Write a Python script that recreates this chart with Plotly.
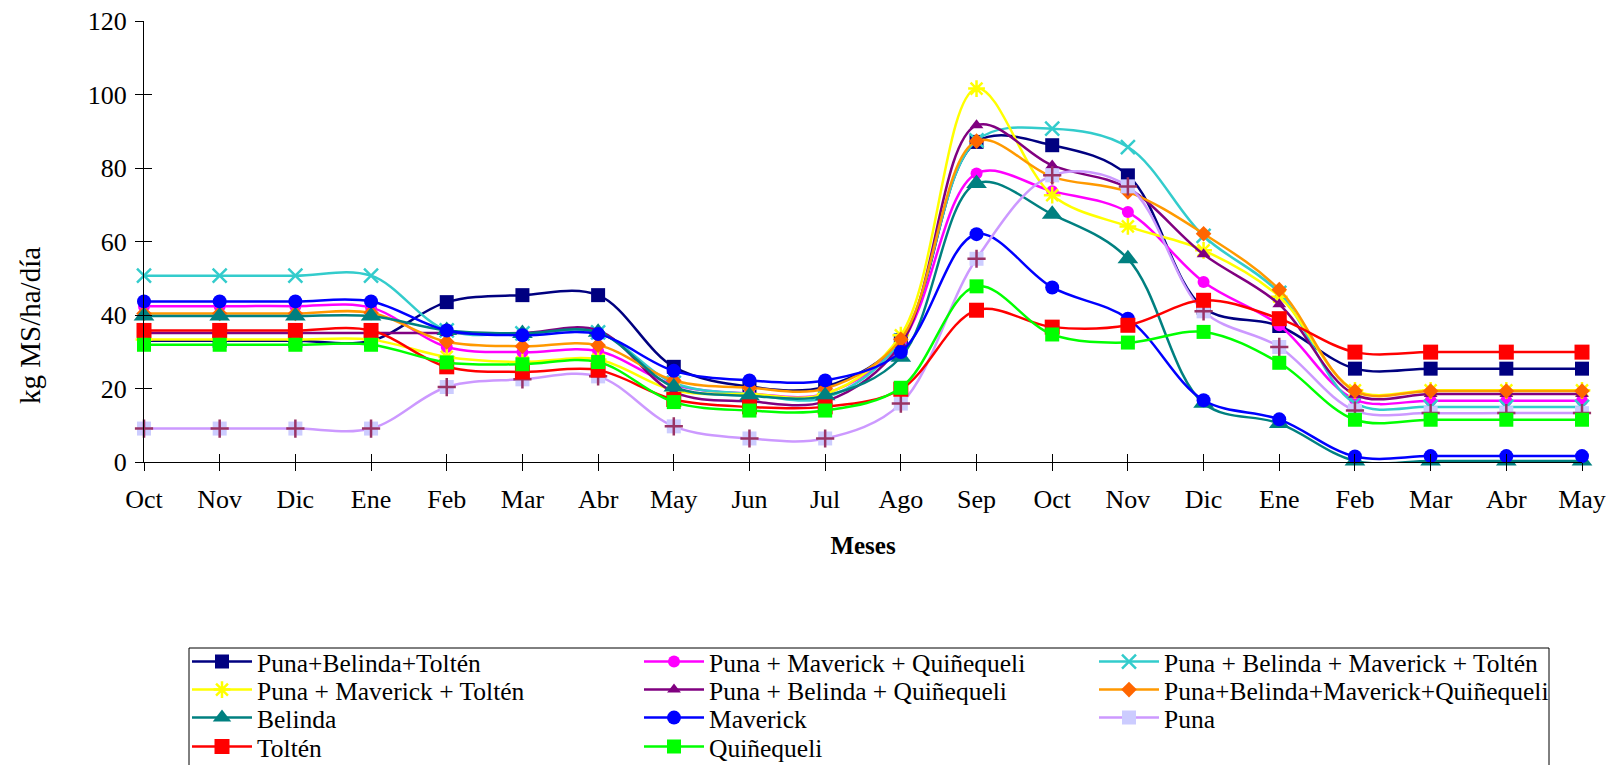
import plotly.graph_objects as go

months = ["Oct", "Nov", "Dic", "Ene", "Feb", "Mar", "Abr", "May", "Jun", "Jul",
          "Ago", "Sep", "Oct", "Nov", "Dic", "Ene", "Feb", "Mar", "Abr", "May"]
y_ticks = [0, 20, 40, 60, 80, 100, 120]

puna_belinda_tolten = [33.0, 33.0, 33.0, 33.0, 43.5, 45.4, 45.4, 25.9, 20.5, 20.5,
                       33.1, 87.1, 86.2, 78.0, 42.0, 37.0, 25.4, 25.4, 25.4, 25.4]
puna_maverick_quinequeli = [42.4, 42.4, 42.4, 42.0, 31.3, 29.9, 30.2, 21.0, 18.6, 18.6,
                            32.5, 78.5, 73.7, 68.0, 49.0, 37.2, 17.0, 16.7, 16.7, 16.7]
puna_belinda_maverick_tolten = [50.7, 50.7, 50.7, 50.7, 35.8, 35.0, 35.3, 21.5, 18.5, 17.5,
                                33.0, 87.5, 90.7, 85.7, 61.5, 46.0, 16.0, 15.0, 15.0, 15.0]
puna_maverick_tolten = [33.3, 33.3, 33.3, 33.3, 28.6, 27.2, 27.9, 19.5, 18.5, 18.5,
                        34.5, 101.6, 72.6, 64.1, 57.6, 45.0, 19.5, 19.5, 19.5, 19.5]
puna_belinda_quinequeli = [35.1, 35.1, 35.1, 35.1, 35.1, 35.1, 35.8, 19.0, 16.5, 16.5,
                           32.0, 91.6, 80.7, 74.5, 56.5, 42.9, 18.3, 18.5, 18.5, 18.5]
puna_belinda_maverick_quinequeli = [40.4, 40.4, 40.4, 40.6, 32.7, 31.5, 31.8, 22.2, 20.2, 20.0,
                                    33.4, 87.3, 77.6, 73.5, 62.1, 46.9, 19.3, 19.3, 19.3, 19.3]
belinda = [39.7, 39.7, 39.7, 39.7, 35.8, 35.0, 35.3, 20.4, 18.0, 18.0,
           28.5, 75.8, 67.4, 55.3, 16.0, 10.5, 0.3, 0.3, 0.3, 0.3]
maverick = [43.7, 43.7, 43.7, 43.7, 35.8, 34.5, 34.8, 24.8, 22.2, 22.2,
            29.9, 62.0, 47.5, 39.0, 16.8, 11.6, 1.5, 1.6, 1.6, 1.6]
puna = [9.1, 9.1, 9.1, 9.1, 20.4, 22.5, 23.3, 9.7, 6.4, 6.4,
        15.9, 55.3, 78.0, 75.0, 41.0, 31.3, 14.0, 13.3, 13.3, 13.3]
tolten = [35.8, 35.8, 35.8, 35.8, 25.9, 24.5, 25.0, 17.0, 15.0, 15.0,
          19.8, 41.3, 36.7, 37.2, 44.0, 39.0, 29.9, 29.9, 29.9, 29.9]
quinequeli = [31.9, 31.9, 31.9, 31.9, 27.1, 26.6, 27.2, 16.3, 14.0, 14.0,
              20.2, 47.8, 34.7, 32.5, 35.4, 27.0, 11.5, 11.5, 11.5, 11.5]

x = list(range(len(months)))
FONT = "Liberation Serif, Times New Roman, serif"

# name, values, line color, marker symbol, marker color, size, (legend column, row)
series = [
    ("Puna+Belinda+Toltén", puna_belinda_tolten, "#000080", "square", "#000080", 14, (0, 0)),
    ("Puna + Maverick + Quiñequeli", puna_maverick_quinequeli, "#FF00FF", "circle", "#FF00FF", 12, (1, 0)),
    ("Puna + Belinda + Maverick + Toltén", puna_belinda_maverick_tolten, "#33CCCC", "x-thin-open", "#33CCCC", 14, (2, 0)),
    ("Puna + Maverick + Toltén", puna_maverick_tolten, "#FFFF00", "asterisk-open", "#FFFF00", 14, (0, 1)),
    ("Puna + Belinda + Quiñequeli", puna_belinda_quinequeli, "#800080", "triangle-up", "#800080", 12, (1, 1)),
    ("Puna+Belinda+Maverick+Quiñequeli", puna_belinda_maverick_quinequeli, "#FF9900", "diamond", "#FF6600", 12, (2, 1)),
    ("Belinda", belinda, "#008080", "triangle-up", "#008080", 18, (0, 2)),
    ("Maverick", maverick, "#0000FF", "circle", "#0000FF", 14, (1, 2)),
    ("Puna", puna, "#CC99FF", "square", "#CCCCFF", 14, (2, 2)),
    ("Toltén", tolten, "#FF0000", "square", "#FF0000", 15, (0, 3)),
    ("Quiñequeli", quinequeli, "#00FF00", "square", "#00FF00", 14, (1, 3)),
]

OFF = 8                      # default page margin of the html body
W, H = 1606, 757
L, R, T, B = 136, 32, 13, 303
pw = W - L - R
ph = H - T - B
bottom_page = OFF + T + ph


def px_x(p):
    return (p - OFF - L) / pw


def px_y(p):
    return (bottom_page - p) / ph


col_x = [187, 639, 1094]        # legend origin (page px)
row_y = [662, 690, 718, 747]    # legend row centres (page px)

fig = go.Figure()
legends = {}
for i, (name, vals, lc, sym, mc, size, (col, row)) in enumerate(series):
    leg = "legend" if i == 0 else f"legend{i + 1}"
    legends[leg] = dict(
        x=px_x(col_x[col]), y=px_y(row_y[row]), xanchor="left", yanchor="middle",
        font=dict(family=FONT, size=25.5, color="black"),
        bgcolor="rgba(0,0,0,0)", borderwidth=0, orientation="v", itemwidth=60,
        tracegroupgap=0,
    )
    marker = dict(symbol=sym, color=mc, size=size, line=dict(width=0))
    if sym.endswith("-open"):
        marker["line"] = dict(width=2.5, color=mc)
    fig.add_trace(go.Scatter(
        x=x, y=vals, name=name, mode="lines+markers",
        line=dict(color=lc, width=2.5, shape="spline", smoothing=1),
        marker=marker, legend=leg, cliponaxis=False,
    ))
    if name == "Puna":
        fig.add_trace(go.Scatter(
            x=x, y=vals, name=name, mode="markers", showlegend=False,
            marker=dict(symbol="cross-thin-open", color="#993366", size=13,
                        line=dict(width=2.5, color="#993366")),
            cliponaxis=False, legend=leg,
        ))

# empty trace on overlay axes (for crossing tick marks)
fig.add_trace(go.Scatter(x=[], y=[], xaxis="x2", yaxis="y2", showlegend=False))

fig.update_layout(
    width=W, height=H,
    margin=dict(l=L, r=R, t=T, b=B, autoexpand=False),
    paper_bgcolor="white", plot_bgcolor="white",
    font=dict(family=FONT, color="black"),
    xaxis=dict(
        range=[0, len(months) - 1], tickmode="array", tickvals=x, ticktext=months,
        showgrid=False, zeroline=False, showline=True, linecolor="black", linewidth=1,
        ticks="outside", ticklen=8, tickcolor="black", tickwidth=1,
        tickfont=dict(family=FONT, size=26, color="black"), ticklabelstandoff=6,
        ticklabeloverflow="allow",
        title=dict(text="<b>Meses</b>", font=dict(family=FONT, size=25, color="black"), standoff=23),
    ),
    yaxis=dict(
        range=[0, 120], tickmode="array", tickvals=y_ticks,
        showgrid=False, zeroline=False, showline=True, linecolor="black", linewidth=1,
        ticks="outside", ticklen=8, tickcolor="black", tickwidth=1,
        tickfont=dict(family=FONT, size=26, color="black"), ticklabelstandoff=3,
        ticklabeloverflow="allow",
    ),
    xaxis2=dict(
        overlaying="x", anchor="y", range=[0, len(months) - 1], tickmode="array",
        tickvals=x, showticklabels=False, ticks="inside", ticklen=8,
        tickcolor="black", tickwidth=1, showgrid=False, zeroline=False, showline=False,
    ),
    yaxis2=dict(
        overlaying="y", anchor="x", range=[0, 120], tickmode="array",
        tickvals=y_ticks, showticklabels=False, ticks="inside", ticklen=8,
        tickcolor="black", tickwidth=1, showgrid=False, zeroline=False, showline=False,
    ),
    showlegend=True,
    **legends,
)

fig.add_annotation(
    text="kg MS/ha/día", xref="paper", yref="paper",
    x=px_x(30), y=px_y(326), xanchor="center", yanchor="middle",
    textangle=-90, showarrow=False,
    font=dict(family=FONT, size=29, color="black"),
)

fig.add_shape(
    type="rect", xref="paper", yref="paper",
    x0=px_x(189), x1=px_x(1549), y0=px_y(648), y1=px_y(790),
    line=dict(color="black", width=1), fillcolor="rgba(0,0,0,0)", layer="below",
)

fig.write_html("out.html")
